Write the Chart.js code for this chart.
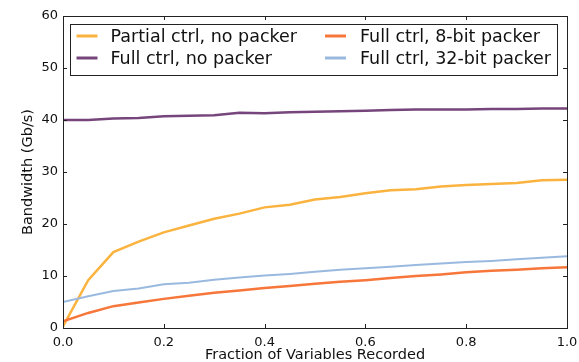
<!DOCTYPE html>
<html>
<head>
<meta charset="utf-8">
<script src="https://cdn.jsdelivr.net/npm/chart.js@4/dist/chart.umd.min.js"></script>
<style>
  html, body { margin: 0; padding: 0; background: #ffffff; }
  #wrap { width: 579px; height: 362px; position: relative; }
</style>
</head>
<body>
<div id="wrap"><canvas id="c" width="579" height="362"></canvas></div>
<script>
const xFractions = [0.0, 0.05, 0.1, 0.15, 0.2, 0.25, 0.3, 0.35, 0.4, 0.45, 0.5,
                    0.55, 0.6, 0.65, 0.7, 0.75, 0.8, 0.85, 0.9, 0.95, 1.0];
const partialNoPacker = [0.3, 9.2, 14.6, 16.6, 18.4, 19.7, 21.0, 22.0, 23.2, 23.7, 24.7,
                         25.2, 25.9, 26.5, 26.7, 27.2, 27.5, 27.7, 27.9, 28.4, 28.5];
const fullNoPacker = [40.0, 40.0, 40.3, 40.4, 40.7, 40.8, 40.9, 41.4, 41.3, 41.5, 41.6,
                      41.7, 41.8, 41.9, 42.0, 42.0, 42.0, 42.1, 42.1, 42.2, 42.2];
const full8bit = [1.3, 2.9, 4.2, 4.9, 5.6, 6.2, 6.8, 7.2, 7.7, 8.1, 8.5,
                  8.9, 9.2, 9.6, 10.0, 10.3, 10.7, 11.0, 11.2, 11.5, 11.7];
const full32bit = [5.0, 6.1, 7.1, 7.6, 8.4, 8.7, 9.3, 9.7, 10.1, 10.4, 10.8,
                   11.2, 11.5, 11.8, 12.1, 12.4, 12.7, 12.9, 13.2, 13.5, 13.8];
const seriesLabels = ['Partial ctrl, no packer', 'Full ctrl, no packer',
                      'Full ctrl, 8-bit packer', 'Full ctrl, 32-bit packer'];
const xTicks = [0.0, 0.2, 0.4, 0.6, 0.8, 1.0];
const yTicks = [0, 10, 20, 30, 40, 50, 60];
const xTitle = 'Fraction of Variables Recorded';
const yTitle = 'Bandwidth (Gb/s)';

const colors = ['#fbb33f', '#76457b', '#f7763a', '#9ab9df'];
const widths = [2.5, 2.5, 2.5, 2];
const seriesData = [partialNoPacker, fullNoPacker, full8bit, full32bit];

const FONT = 'DejaVu Sans';

const datasets = seriesData.map((arr, i) => ({
  label: seriesLabels[i],
  data: xFractions.map((x, j) => ({ x: x, y: arr[j] })),
  borderColor: colors[i],
  backgroundColor: colors[i],
  borderWidth: widths[i],
  pointRadius: 0,
  tension: 0,
  fill: false,
  order: 4 - i
}));

const framePlugin = {
  id: 'frame',
  afterDatasetsDraw(chart) {
    const ctx = chart.ctx;
    const a = chart.chartArea;
    const xs = chart.scales.x, ys = chart.scales.y;
    ctx.save();
    ctx.strokeStyle = '#222';
    ctx.lineWidth = 1;
    ctx.beginPath();
    const tl = 4;
    xTicks.forEach(v => {
      const px = Math.round(xs.getPixelForValue(v)) + 0.5;
      ctx.moveTo(px, a.bottom); ctx.lineTo(px, a.bottom - tl);
      ctx.moveTo(px, a.top); ctx.lineTo(px, a.top + tl);
    });
    yTicks.forEach(v => {
      const py = Math.round(ys.getPixelForValue(v)) + 0.5;
      ctx.moveTo(a.left, py); ctx.lineTo(a.left + tl, py);
      ctx.moveTo(a.right, py); ctx.lineTo(a.right - tl, py);
    });
    ctx.stroke();
    ctx.strokeRect(Math.round(a.left) + 0.5, Math.round(a.top) + 0.5,
                   Math.round(a.right - a.left), Math.round(a.bottom - a.top));
    ctx.restore();
  }
};

const legendPlugin = {
  id: 'innerLegend',
  afterDraw(chart) {
    const ctx = chart.ctx;
    const a = chart.chartArea;
    const boxL = a.left + 6.5, boxT = a.top + 7.5;
    const boxR = a.right - 11, boxB = a.top + 58.5;
    ctx.save();
    ctx.fillStyle = '#ffffff';
    ctx.fillRect(boxL, boxT, boxR - boxL, boxB - boxT);
    ctx.strokeStyle = '#222';
    ctx.lineWidth = 1;
    ctx.strokeRect(Math.round(boxL) + 0.5, Math.round(boxT) + 0.5,
                   Math.round(boxR - boxL), Math.round(boxB - boxT));
    const cols = [{ h: a.left + 13.5, t: a.left + 47.5 }, { h: a.left + 262, t: a.left + 297 }];
    const rows = [a.top + 20, a.top + 42];
    ctx.font = '17.5px "' + FONT + '"';
    ctx.textBaseline = 'middle';
    ctx.textAlign = 'left';
    chart.data.datasets.forEach((ds, i) => {
      const c = cols[Math.floor(i / 2)], r = rows[i % 2];
      ctx.strokeStyle = ds.borderColor;
      ctx.lineWidth = 3;
      ctx.beginPath();
      ctx.moveTo(c.h, r); ctx.lineTo(c.h + 21, r);
      ctx.stroke();
      ctx.fillStyle = '#111';
      ctx.fillText(ds.label, c.t, r + 1);
    });
    ctx.restore();
  }
};

new Chart(document.getElementById('c'), {
  type: 'line',
  data: { datasets: datasets },
  plugins: [framePlugin, legendPlugin],
  options: {
    responsive: false,
    animation: false,
    devicePixelRatio: 1,
    layout: { padding: { left: 0, right: 12, top: 16, bottom: 0 } },
    plugins: { legend: { display: false }, tooltip: { enabled: false } },
    scales: {
      x: {
        type: 'linear',
        min: 0, max: 1,
        afterBuildTicks(scale) { scale.ticks = xTicks.map(v => ({ value: v })); },
        afterFit(scale) { scale.height = 34; scale.paddingLeft = 0; scale.paddingRight = 0; },
        grid: { display: false, drawTicks: false },
        border: { display: false },
        ticks: {
          color: '#111',
          padding: 7,
          font: { family: FONT, size: 13 },
          maxRotation: 0,
          callback: v => Number(v).toFixed(1)
        },
        title: {
          display: true, text: xTitle, color: '#111',
          font: { family: FONT, size: 14.5, lineHeight: 1.0 },
          padding: { top: 0, bottom: 0 }
        }
      },
      y: {
        type: 'linear',
        min: 0, max: 60,
        afterBuildTicks(scale) { scale.ticks = yTicks.map(v => ({ value: v })); },
        afterFit(scale) { scale.width = 63; scale.paddingTop = 0; scale.paddingBottom = 0; },
        grid: { display: false, drawTicks: false },
        border: { display: false },
        ticks: {
          color: '#111',
          padding: 5,
          font: { family: FONT, size: 13 },
          callback: v => String(v)
        },
        title: {
          display: true, text: yTitle, color: '#111',
          font: { family: FONT, size: 14.5 },
          padding: { top: 20, bottom: 0 }
        }
      }
    }
  }
});
</script>
</body>
</html>
